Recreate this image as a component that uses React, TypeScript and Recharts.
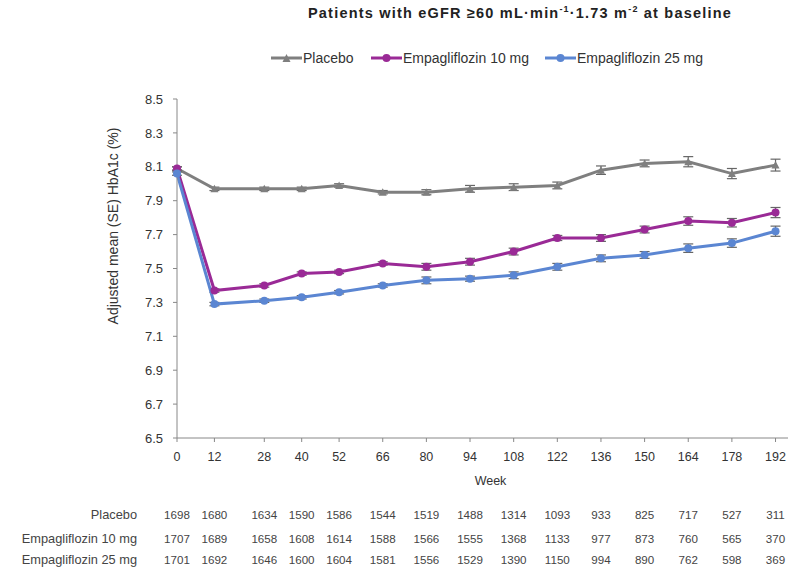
import React from "react";
import { ErrorBar, Line, LineChart, XAxis, YAxis } from "recharts";

const weeks = [0, 12, 28, 40, 52, 66, 80, 94, 108, 122, 136, 150, 164, 178, 192];

const placebo = [8.09, 7.97, 7.97, 7.97, 7.99, 7.95, 7.95, 7.97, 7.98, 7.99, 8.08, 8.12, 8.13, 8.06, 8.11];
const empa10 = [8.09, 7.37, 7.4, 7.47, 7.48, 7.53, 7.51, 7.54, 7.6, 7.68, 7.68, 7.73, 7.78, 7.77, 7.83];
const empa25 = [8.06, 7.29, 7.31, 7.33, 7.36, 7.4, 7.43, 7.44, 7.46, 7.51, 7.56, 7.58, 7.62, 7.65, 7.72];

const placeboSE = [0.01, 0.01, 0.01, 0.01, 0.01, 0.01, 0.015, 0.02, 0.02, 0.02, 0.025, 0.02, 0.03, 0.03, 0.035];
const empa10SE = [0.01, 0.01, 0.01, 0.01, 0.01, 0.01, 0.02, 0.02, 0.02, 0.015, 0.02, 0.02, 0.025, 0.025, 0.03];
const empa25SE = [0.01, 0.01, 0.01, 0.01, 0.01, 0.01, 0.02, 0.015, 0.02, 0.02, 0.02, 0.02, 0.025, 0.025, 0.03];

const placeboN = [1698, 1680, 1634, 1590, 1586, 1544, 1519, 1488, 1314, 1093, 933, 825, 717, 527, 311];
const empa10N = [1707, 1689, 1658, 1608, 1614, 1588, 1566, 1555, 1368, 1133, 977, 873, 760, 565, 370];
const empa25N = [1701, 1692, 1646, 1600, 1604, 1581, 1556, 1529, 1390, 1150, 994, 890, 762, 598, 369];

const yTicks = [6.5, 6.7, 6.9, 7.1, 7.3, 7.5, 7.7, 7.9, 8.1, 8.3, 8.5];

const seriesNames = ["Placebo", "Empagliflozin 10 mg", "Empagliflozin 25 mg"];
const atRisk = [placeboN, empa10N, empa25N];

const data = weeks.map((week, i) => ({
  week,
  placebo: placebo[i],
  placeboSE: placeboSE[i],
  empa10: empa10[i],
  empa10SE: empa10SE[i],
  empa25: empa25[i],
  empa25SE: empa25SE[i],
}));

const FONT = "'Liberation Sans', Arial, sans-serif";
const GREY = "#7f7f7f";
const PURPLE = "#9a2a96";
const BLUE = "#5b86d2";

// week label + numbers at risk below the axis
function WeekTick(props: any) {
  const { x, y, payload } = props;
  const idx = weeks.indexOf(payload.value);
  const axisY = y - 6;
  const rowY = [axisY + 81, axisY + 105, axisY + 126];
  return (
    <g fontFamily={FONT}>
      <text x={x} y={axisY + 23} textAnchor="middle" fontSize={12.5} fill="#333">
        {payload.value}
      </text>
      {atRisk.map((row, r) => (
        <text key={r} x={x} y={rowY[r]} textAnchor="middle" fontSize={11.6} fill="#444">
          {row[idx]}
        </text>
      ))}
      {idx === 0 &&
        seriesNames.map((name, r) => (
          <text key={name} x={137} y={rowY[r]} textAnchor="end" fontSize={12.8} fill="#444">
            {name}
          </text>
        ))}
    </g>
  );
}

function Triangle(props: any) {
  const { cx, cy } = props;
  if (cx == null || cy == null) return null;
  return <path d={`M${cx - 4},${cy + 3.5} L${cx + 4},${cy + 3.5} L${cx},${cy - 4} Z`} fill={GREY} />;
}

function LegendItem({ left, color, label, tri }: { left: number; color: string; label: string; tri?: boolean }) {
  return (
    <div style={{ position: "absolute", left, top: 50, display: "flex", alignItems: "center" }}>
      <svg width={31} height={14}>
        <line x1={0} y1={7} x2={31} y2={7} stroke={color} strokeWidth={3} />
        {tri ? <path d="M11.5,11 L19.5,11 L15.5,3 Z" fill={color} /> : <circle cx={15.5} cy={7} r={4} fill={color} />}
      </svg>
      <span style={{ fontSize: 14, color: "#333", marginLeft: 1 }}>{label}</span>
    </div>
  );
}

export default function App() {
  return (
    <div style={{ position: "absolute", left: 0, top: 0, width: 798, height: 570, background: "#fff", fontFamily: FONT }}>
      <div
        style={{
          position: "absolute",
          top: 4,
          left: 0,
          width: 798,
          paddingLeft: 242,
          boxSizing: "border-box",
          textAlign: "center",
          fontSize: 14.5,
          letterSpacing: 1.2,
          fontWeight: "bold",
          color: "#222",
        }}
      >
        Patients with eGFR ≥60 mL·min<sup style={{ fontSize: 9 }}>-1</sup>·1.73 m<sup style={{ fontSize: 9 }}>-2</sup> at baseline
      </div>

      <LegendItem left={271} color={GREY} label="Placebo" tri />
      <LegendItem left={371} color={PURPLE} label="Empagliflozin 10 mg" />
      <LegendItem left={545} color={BLUE} label="Empagliflozin 25 mg" />

      <LineChart width={798} height={570} data={data} margin={{ top: 99, right: 10, left: 117, bottom: 0 }}>
        <XAxis
          dataKey="week"
          type="number"
          domain={[0, 196]}
          ticks={weeks}
          interval={0}
          height={132}
          tickSize={4}
          tickMargin={2}
          tick={<WeekTick />}
          axisLine={{ stroke: "#888" }}
          tickLine={{ stroke: "#888" }}
          label={{ value: "Week", position: "insideTop", offset: 38, dx: 8, fontSize: 12.5, fill: "#333" }}
        />
        <YAxis
          type="number"
          domain={[6.5, 8.5]}
          ticks={yTicks}
          interval={0}
          width={60}
          tickSize={4}
          tickMargin={10}
          tickFormatter={(v: number) => v.toFixed(1)}
          tick={{ fontSize: 13, fill: "#333", fontFamily: FONT }}
          axisLine={{ stroke: "#888" }}
          tickLine={{ stroke: "#888" }}
          label={{
            content: () => (
              <text
                x={114}
                y={226}
                transform="rotate(-90, 114, 226)"
                textAnchor="middle"
                dominantBaseline="middle"
                fontSize={14}
                fill="#333"
                fontFamily={FONT}
              >
                Adjusted mean (SE) HbA1c (%)
              </text>
            ),
          }}
        />
        <Line
          dataKey="placebo"
          stroke={GREY}
          strokeWidth={3}
          dot={<Triangle />}
          activeDot={false}
          isAnimationActive={false}
        >
          <ErrorBar dataKey="placeboSE" width={5} stroke="#666" strokeWidth={1.2} direction="y" />
        </Line>
        <Line
          dataKey="empa10"
          stroke={PURPLE}
          strokeWidth={3}
          dot={{ r: 4, fill: PURPLE, stroke: PURPLE, strokeWidth: 0 }}
          activeDot={false}
          isAnimationActive={false}
        >
          <ErrorBar dataKey="empa10SE" width={5} stroke="#666" strokeWidth={1.2} direction="y" />
        </Line>
        <Line
          dataKey="empa25"
          stroke={BLUE}
          strokeWidth={3}
          dot={{ r: 4, fill: BLUE, stroke: BLUE, strokeWidth: 0 }}
          activeDot={false}
          isAnimationActive={false}
        >
          <ErrorBar dataKey="empa25SE" width={5} stroke="#666" strokeWidth={1.2} direction="y" />
        </Line>
      </LineChart>
    </div>
  );
}
